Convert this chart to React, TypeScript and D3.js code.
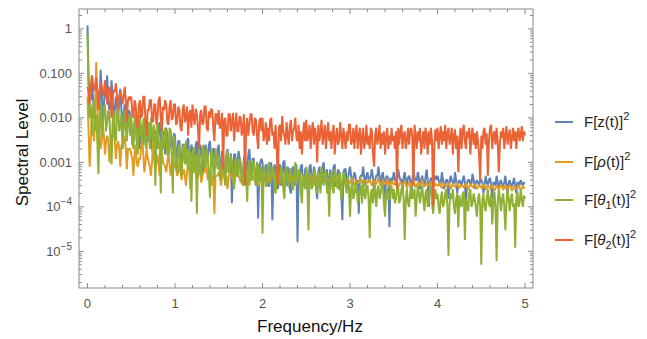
import React from "react";
import * as d3 from "d3";

// ---------- data ----------
const freqStep = 0.0125; // Hz, spacing of spectral bins (0 … 5 Hz)
const xTickValues = [0, 1, 2, 3, 4, 5];
const yTickValues = [1, 0.1, 0.01, 0.001, 1e-4, 1e-5];
const yTickLabels = ["1", "0.100", "0.010", "0.001", "10|-4", "10|-5"];

// F[z(t)]^2
const zSpec = [
  1.2, 8e-2, 3e-2, 2.5e-2, 6e-2, 3e-2, 1e-2, 2e-2, 5e-2, 3e-2, 2e-2, 1.5e-2, 1.2e-1, 4e-2, 8e-3, 2e-2, 4e-2, 3e-2, 9e-2, 2.5e-2, 1.5e-2, 2e-2, 7e-2, 3e-2, 5e-3, 1.5e-2, 3e-2, 2e-2, 1e-2, 2.5e-2, 4.5e-2, 1.5e-2, 6e-3, 1.2e-2, 2e-2, 1.5e-2, 4e-3, 1e-2, 1.5e-2, 1.2e-2,
  8e-3, 2.5e-3, 3e-3, 8e-3, 1e-2, 3e-3, 5e-3, 9e-3, 2e-3, 3e-3, 7e-3, 2.5e-3, 4e-3, 8e-3, 1e-2, 3e-3, 3e-3, 6e-3, 6e-3, 2e-3, 1.5e-3, 5e-3, 5e-3, 2e-3, 2.5e-3, 6e-3, 8e-3, 2.5e-3, 2e-3, 5e-3, 4e-3, 1.5e-3, 6e-3, 4e-3, 1.5e-3, 2.5e-3, 5e-3, 2e-3, 3e-3, 4.5e-3,
  4e-3, 1.2e-3, 1.5e-3, 3e-3, 3e-3, 1e-3, 8e-4, 2.5e-3, 2.5e-3, 1e-3, 1e-3, 3e-3, 3.5e-3, 1.2e-3, 1.2e-3, 2.5e-3, 2e-3, 9e-4, 7e-4, 2.5e-3, 3e-3, 1e-3, 1e-3, 2.5e-3, 2e-3, 8e-4, 6e-4, 2e-3, 2.5e-3, 1e-3, 1.5e-3, 2.5e-3, 3e-3, 1e-3, 8e-4, 2e-3, 2e-3, 8e-4, 1e-3, 2e-3,
  2.5e-3, 7e-4, 8e-4, 1.8e-3, 1.5e-3, 6e-4, 5e-4, 1.5e-3, 2e-3, 6e-4, 7e-4, 1.6e-3, 1.2e-4, 8e-4, 1.5e-3, 1.5e-3, 6e-4, 7e-4, 1.8e-3, 1.3e-3, 9e-4, 5e-4, 4e-4, 1.2e-3, 1.5e-3, 6e-4, 7e-4, 1.5e-3, 2e-3, 7e-4, 5e-4, 1.2e-3, 1.2e-3, 5e-4, 3e-4, 1e-3, 5.5e-5, 6e-4, 1e-3, 1.2e-3,
  1e-3, 4e-4, 4e-4, 9e-4, 8e-4, 3e-4, 3e-4, 8e-4, 1e-3, 5e-5, 5e-4, 9e-4, 7e-4, 3e-4, 2.5e-4, 8e-4, 9e-4, 3e-4, 4e-4, 1e-3, 1.1e-3, 4e-4, 3e-4, 8e-4, 6e-4, 2.5e-4, 2e-4, 7e-4, 8e-4, 3e-4, 4e-4, 9e-4, 1.6e-5, 4e-4, 5e-4, 8e-4, 9e-4, 3e-4, 3e-4, 7e-4,
  7e-4, 2.5e-4, 3e-4, 8e-4, 9e-4, 3e-4, 4e-4, 8e-4, 6e-4, 2.5e-4, 1.5e-4, 6e-4, 8e-4, 3e-4, 3.5e-4, 8e-4, 1e-3, 3.5e-4, 5e-4, 7e-4, 2.5e-4, 4e-4, 7e-4, 3e-4, 4e-4, 8e-4, 9e-4, 3e-4, 3e-4, 7e-4, 6e-4, 2.5e-4, 2e-4, 5e-5, 6e-4, 7e-4, 7e-4, 3e-4, 4e-4, 6e-4,
  8e-4, 5e-4, 3e-4, 4.5e-4, 6e-4, 5e-4, 2e-4, 4e-4, 7e-5, 4.5e-4, 5e-4, 5e-4, 8e-4, 4.5e-4, 3e-4, 5e-4, 6e-4, 4e-4, 4e-4, 5e-4, 7e-4, 4.5e-4, 2e-4, 4e-4, 5e-4, 5e-4, 8e-4, 4.5e-4, 3e-4, 5e-4, 6e-4, 4e-4, 1.5e-4, 4.5e-4, 5e-4, 4e-4, 3.5e-5, 4.5e-4, 4e-4, 4e-4,
  6e-4, 4.5e-4, 3e-4, 4e-4, 7e-4, 5e-4, 4e-4, 4e-4, 2e-4, 4.5e-4, 6e-4, 4e-4, 3e-4, 4.5e-4, 5e-4, 4e-4, 1.5e-4, 4e-4, 7e-4, 4.5e-4, 4e-4, 4e-4, 6e-4, 4.5e-4, 2.5e-4, 4e-4, 5e-4, 3.5e-4, 3e-4, 4.5e-4, 7e-4, 4e-4, 1e-4, 3.5e-4, 4.5e-4, 4e-4, 3e-4, 4.5e-4, 5e-4, 4e-4,
  5e-4, 4e-4, 3e-4, 3.5e-4, 6e-4, 4e-4, 2.5e-4, 3.5e-4, 4e-4, 4e-4, 1.5e-4, 3.5e-4, 5e-4, 4e-4, 3.5e-4, 3.5e-4, 6e-4, 4e-4, 2e-4, 3.5e-4, 4e-4, 3.5e-4, 3e-4, 4e-4, 5e-4, 3.5e-4, 1e-4, 3.5e-4, 4e-4, 4e-4, 3e-4, 3.5e-4, 5.5e-4, 4e-4, 2.5e-4, 3.5e-4, 4e-4, 3.5e-4, 3e-4, 4e-4,
  4e-4, 3.5e-4, 2e-4, 3e-4, 5e-4, 3.5e-4, 3e-4, 4e-4, 4.5e-4, 3e-4, 1.5e-4, 3.5e-4, 3.5e-4, 3e-4, 5e-4, 3.5e-4, 2.5e-4, 3.5e-4, 4e-4, 3e-4, 3e-4, 3.5e-4, 5e-4, 3e-4, 2e-4, 3.5e-4, 4e-4, 3e-4, 3e-4, 3.5e-4, 4.5e-4, 3e-4, 2e-4, 3.5e-4, 3.5e-4, 3e-4, 4e-4, 3.5e-4, 3e-4, 3.5e-4,
  3.5e-4,
];

// F[rho(t)]^2
const rhoSpec = [
  3e-2, 5e-3, 8e-4, 3e-3, 1e-2, 6e-3, 3e-3, 1e-2, 1.8e-1, 2e-2, 5e-3, 4e-3, 2e-3, 3e-3, 8e-3, 4e-3, 1.5e-3, 3e-3, 4e-3, 3e-3, 1e-3, 2.5e-3, 3e-3, 4e-3, 6e-3, 3e-3, 1.2e-3, 2.5e-3, 3e-3, 2e-3, 8e-4, 2.5e-3, 2e-3, 3e-3, 4e-3, 2e-3, 7e-4, 2e-3, 2e-3, 2e-3,
  1.5e-3, 1.2e-3, 5e-4, 1.5e-3, 2.5e-3, 1e-3, 8e-4, 1.2e-3, 1.2e-3, 2e-3, 4e-3, 1.5e-3, 6e-4, 1e-3, 2e-3, 1.3e-3, 1e-3, 8e-4, 5e-4, 1e-3, 3e-3, 1.2e-3, 7e-4, 1e-3, 1.5e-3, 9e-4, 5e-4, 1.1e-3, 2e-3, 1e-3, 9e-4, 8e-4, 6e-4, 1e-3, 1.8e-3, 9e-4, 5e-4, 8e-4, 1.2e-3, 9e-4,
  8e-4, 7e-4, 5e-4, 6e-4, 1e-3, 7e-4, 4e-4, 6e-4, 7e-4, 5e-4, 3e-4, 6e-4, 9e-4, 7e-4, 2.5e-4, 6e-4, 6e-4, 6e-4, 8e-4, 6e-4, 4e-4, 5e-4, 7e-4, 6e-4, 3.5e-4, 5e-4, 6e-4, 6e-4, 9e-4, 7e-4, 4e-4, 5e-4, 6e-4, 6e-4, 3e-4, 5e-4, 7e-5, 5e-4, 5e-4, 5e-4,
  6e-4, 5e-4, 3e-4, 4.5e-4, 7e-4, 5e-4, 4e-4, 5e-4, 2.5e-4, 4.5e-4, 6e-4, 5e-4, 4.5e-4, 5e-4, 3e-4, 4.5e-4, 7e-4, 5e-4, 5e-4, 4.5e-4, 3.5e-4, 5e-4, 6e-4, 4.5e-4, 4e-4, 5e-4, 5.5e-4, 4.5e-4, 3e-4, 5e-4, 6e-4, 4.5e-4, 4e-4, 5e-4, 5e-4, 4.5e-4, 3e-4, 4.5e-4, 5.5e-4, 5e-4,
  5e-4, 4.5e-4, 4e-4, 4.8e-4, 5.5e-4, 4.5e-4, 3.5e-4, 4.2e-4, 4.5e-4, 4.8e-4, 5e-4, 4.4e-4, 3.5e-4, 4.6e-4, 5.5e-4, 4.5e-4, 4e-4, 4.4e-4, 5e-4, 4.6e-4, 3.5e-4, 4.2e-4, 4.5e-4, 4.8e-4, 5.5e-4, 4.5e-4, 4e-4, 4.3e-4, 5e-4, 4.6e-4, 3.5e-4, 4.2e-4, 4.5e-4, 4.7e-4, 5e-4, 4.4e-4, 3.5e-4, 4.2e-4, 4.5e-4, 4.3e-4,
  4e-4, 4.3e-4, 5e-4, 4.1e-4, 3.5e-4, 4e-4, 4.5e-4, 4.2e-4, 3e-4, 3.8e-4, 5e-4, 4.2e-4, 4e-4, 3.9e-4, 4.5e-4, 4.1e-4, 3.5e-4, 4e-4, 5e-4, 4.2e-4, 4e-4, 3.8e-4, 3e-4, 3.9e-4, 4.5e-4, 4.1e-4, 3.5e-4, 4e-4, 5e-4, 4.1e-4, 4e-4, 3.8e-4, 3.5e-4, 4e-4, 4.5e-4, 3.9e-4, 3e-4, 3.7e-4, 4e-4, 3.8e-4,
  3.5e-4, 3.8e-4, 4.5e-4, 3.7e-4, 3e-4, 3.5e-4, 4e-4, 3.7e-4, 3.5e-4, 3.8e-4, 4.5e-4, 3.6e-4, 2.8e-4, 3.4e-4, 4e-4, 3.7e-4, 3.5e-4, 3.6e-4, 4.2e-4, 3.5e-4, 3e-4, 3.5e-4, 4e-4, 3.6e-4, 3.2e-4, 3.7e-4, 4.5e-4, 3.6e-4, 3e-4, 3.4e-4, 3.8e-4, 3.5e-4, 3.2e-4, 3.6e-4, 4.2e-4, 3.5e-4, 2.8e-4, 3.3e-4, 3.8e-4, 3.4e-4,
  3.2e-4, 3.4e-4, 4e-4, 3.3e-4, 2.8e-4, 3.2e-4, 3.6e-4, 3.3e-4, 3e-4, 3.4e-4, 4e-4, 3.2e-4, 2.6e-4, 3.1e-4, 3.5e-4, 3.3e-4, 3e-4, 3.3e-4, 3.8e-4, 3.2e-4, 2.7e-4, 3.1e-4, 3.5e-4, 3.3e-4, 3.1e-4, 3.4e-4, 4e-4, 3.2e-4, 2.8e-4, 3.1e-4, 3.4e-4, 3.2e-4, 3e-4, 3.3e-4, 3.7e-4, 3.2e-4, 2.6e-4, 3e-4, 3.3e-4, 3.1e-4,
  3e-4, 3.1e-4, 3.6e-4, 3e-4, 2.6e-4, 2.9e-4, 3.3e-4, 3.1e-4, 2.9e-4, 3e-4, 3.5e-4, 3e-4, 2.5e-4, 2.9e-4, 3.2e-4, 3e-4, 2.8e-4, 3.1e-4, 3.5e-4, 3e-4, 2.6e-4, 2.9e-4, 3.1e-4, 3e-4, 2.7e-4, 3e-4, 3.4e-4, 2.9e-4, 2.4e-4, 2.8e-4, 3.2e-4, 3e-4, 2.8e-4, 3e-4, 3.3e-4, 2.9e-4, 2.5e-4, 2.8e-4, 3e-4, 2.9e-4,
  2.7e-4, 2.8e-4, 3.3e-4, 2.8e-4, 2.4e-4, 2.7e-4, 3e-4, 2.8e-4, 2.6e-4, 2.7e-4, 3.2e-4, 2.7e-4, 2.3e-4, 2.6e-4, 2.9e-4, 2.8e-4, 2.6e-4, 2.7e-4, 3.2e-4, 2.8e-4, 2.4e-4, 2.6e-4, 3e-4, 2.7e-4, 2.7e-4, 2.8e-4, 3.1e-4, 2.7e-4, 2.3e-4, 2.6e-4, 2.9e-4, 2.7e-4, 2.6e-4, 2.7e-4, 3.1e-4, 2.7e-4, 2.4e-4, 2.6e-4, 2.9e-4, 2.7e-4,
  2.7e-4,
];

// F[theta1(t)]^2
const theta1Spec = [
  0.8, 3e-2, 1e-2, 2e-2, 4e-3, 1.5e-2, 2.5e-2, 5e-3, 1.2e-2, 3e-3, 5.5e-4, 1e-2, 2e-2, 4e-3, 6e-3, 1.8e-2, 2e-2, 5e-3, 8e-3, 1.5e-2, 1.2e-2, 3e-3, 9e-4, 8e-3, 1.5e-2, 4e-3, 3e-3, 1.2e-2, 1.8e-2, 5e-3, 7e-3, 1.2e-2, 2e-3, 5e-3, 1.5e-2, 6e-3, 3e-3, 1e-2, 1.2e-2, 4e-3,
  1e-2, 3e-3, 2e-3, 8e-3, 1.2e-2, 3e-3, 1.5e-3, 7e-3, 1.2e-2, 4e-3, 3e-3, 9e-3, 1e-2, 2.5e-3, 2e-3, 7e-3, 8e-3, 2e-3, 1e-2, 5e-3, 3e-3, 7e-3, 3e-4, 4e-3, 8e-3, 2e-3, 3e-3, 2e-4, 7e-3, 2.5e-3, 2e-3, 6e-3, 5e-3, 1.5e-3, 1.5e-3, 6e-3, 5e-3, 1.5e-3, 2e-4, 4e-3,
  2.5e-3, 8e-4, 6e-4, 2e-3, 2.5e-3, 7e-4, 5e-4, 1.8e-3, 2.5e-3, 9e-4, 3e-3, 1e-3, 7e-4, 2e-3, 1.5e-3, 1.3e-4, 1.5e-3, 2.2e-3, 6e-4, 1.5e-3, 7e-5, 1.2e-3, 2e-3, 6e-4, 5e-4, 1.8e-3, 2.5e-3, 8e-4, 8e-4, 2e-3, 1.2e-3, 5e-4, 1.6e-4, 1.5e-3, 2e-3, 6e-4, 4e-4, 1.5e-3, 2e-3, 7e-4,
  1.5e-3, 5e-4, 4e-4, 1.2e-3, 1.5e-3, 5e-4, 3e-4, 1.2e-3, 1.8e-3, 6e-4, 6e-4, 1.4e-3, 1e-3, 4e-4, 2.5e-4, 1e-3, 1.3e-3, 5e-4, 5e-4, 1.2e-3, 1e-3, 3.5e-4, 3e-4, 1e-3, 1.2e-3, 5e-4, 1.3e-4, 8e-4, 1.1e-3, 4e-4, 4e-4, 1e-3, 1.1e-3, 4e-4, 3e-4, 9e-4, 9e-4, 3.5e-4, 4.5e-4, 8e-4,
  2.5e-5, 6e-4, 8e-4, 3e-4, 3e-4, 8e-4, 1e-3, 3.5e-4, 4e-4, 8e-4, 7e-4, 2.5e-4, 2e-4, 7e-4, 9e-4, 3e-4, 3.5e-4, 8e-4, 6e-4, 2.5e-4, 1.5e-4, 6e-4, 8e-4, 3e-4, 3e-4, 7e-4, 7e-4, 2.5e-4, 2.5e-4, 6e-4, 1e-3, 3e-4, 4e-4, 7e-4, 6e-4, 2.5e-4, 1.2e-4, 5e-4, 5e-4, 2.5e-4,
  8e-4, 3e-4, 3e-5, 5e-4, 6e-4, 2.5e-4, 3e-4, 6e-4, 7e-4, 2.5e-4, 2e-4, 6e-4, 5e-4, 2e-4, 8e-4, 4e-4, 3e-4, 6e-4, 6e-4, 2e-4, 3e-4, 6e-5, 5e-4, 6e-4, 2.5e-4, 2e-4, 7e-4, 5e-4, 3e-4, 2.5e-4, 5e-4, 6e-4, 1.5e-4, 2.5e-4, 6e-4, 4.5e-4, 3e-4, 2e-4, 5e-4, 3e-4,
  6e-5, 2.5e-4, 3.5e-4, 1.5e-4, 2e-4, 3e-4, 4e-4, 1.2e-4, 1.5e-4, 2.5e-4, 3e-4, 1.2e-4, 4e-4, 2e-4, 1.5e-4, 3e-4, 3e-4, 1.5e-4, 2e-5, 2e-4, 2.5e-4, 1.2e-4, 3.5e-4, 2e-4, 1e-4, 2.5e-4, 3e-4, 1.5e-4, 2e-4, 3e-4, 3.5e-4, 1.2e-4, 6e-5, 2e-4, 2.5e-4, 1.5e-4, 1.5e-4, 2.5e-4, 3e-4, 1.5e-4,
  2.5e-4, 1.2e-4, 1.5e-4, 2.5e-4, 3e-4, 1.2e-4, 1.5e-4, 2.5e-4, 3e-4, 1.5e-4, 1.8e-5, 1.5e-4, 2.5e-4, 1.2e-4, 1e-4, 2e-4, 3e-4, 1.5e-4, 2e-4, 2.5e-4, 6e-5, 1.5e-4, 3e-4, 2e-4, 1.2e-4, 2e-4, 3e-4, 1.5e-4, 8e-5, 2e-4, 2.5e-4, 1e-4, 1.5e-4, 2.5e-4, 3e-4, 1.2e-4, 7e-5, 1.5e-4, 2.5e-4, 1.5e-4,
  2e-4, 1e-4, 7e-5, 1.5e-4, 2.2e-4, 1e-4, 1.2e-4, 2e-4, 2.5e-4, 1e-4, 8e-6, 1.2e-4, 2e-4, 1.5e-4, 2.5e-4, 1e-4, 7e-5, 1.5e-4, 2e-4, 3.5e-5, 1.8e-4, 1.2e-4, 1e-4, 2e-4, 2.2e-4, 1.8e-5, 1.5e-4, 1.2e-4, 8e-5, 2e-4, 2.5e-4, 1e-4, 1.2e-4, 2e-4, 1.5e-4, 1e-4, 6e-5, 1.5e-4, 2e-4, 1e-4,
  5e-6, 1.5e-4, 2e-4, 1e-4, 8e-5, 1.5e-4, 2.5e-4, 1.2e-4, 1e-4, 2e-4, 4e-5, 1.2e-4, 2.2e-4, 1e-4, 6e-6, 1.2e-4, 2.5e-4, 1.5e-4, 8e-5, 1.5e-4, 2e-4, 1e-4, 3e-5, 1.2e-4, 2.5e-4, 1.5e-4, 8e-5, 1.5e-4, 2e-4, 1e-4, 1.2e-4, 1.2e-5, 1.5e-4, 2.2e-4, 1e-4, 1.2e-4, 2.5e-4, 1.5e-4, 1e-4, 1.8e-4,
  1.5e-4,
];

// F[theta2(t)]^2
const theta2Spec = [
  5e-2, 4e-2, 2e-2, 5e-2, 9e-2, 6e-2, 4e-2, 5e-2, 8e-2, 4e-2, 1.5e-2, 4e-2, 6e-2, 5e-2, 3e-2, 4e-2, 7e-2, 4e-2, 2e-2, 3.5e-2, 5e-2, 3e-2, 1e-2, 3e-2, 4e-2, 4e-2, 6e-2, 3e-2, 1.5e-2, 3e-2, 4e-2, 3e-2, 2e-2, 3e-2, 5e-2, 2.5e-2, 8e-3, 2.5e-2, 3e-2, 2.5e-2,
  3e-2, 1.2e-2, 1e-2, 2.5e-2, 2e-2, 8e-3, 6e-3, 2e-2, 2.5e-2, 1e-2, 1.2e-2, 3e-2, 3e-2, 8e-3, 4e-3, 1.5e-2, 1.5e-2, 2.5e-2, 2.5e-2, 9e-3, 8e-3, 2e-2, 2e-2, 7e-3, 1e-2, 2.5e-2, 3e-2, 1e-2, 5e-3, 1.8e-2, 1.5e-2, 2.5e-2, 2e-2, 8e-3, 7e-3, 1.8e-2, 2.5e-2, 9e-3, 1e-2, 2e-2,
  2e-2, 7e-3, 8e-3, 1.8e-2, 1.5e-2, 6e-3, 5e-3, 1.5e-2, 2e-2, 8e-3, 1e-2, 1.8e-2, 4e-3, 1.2e-2, 1.5e-2, 6e-3, 2e-2, 1e-2, 7e-3, 1.6e-2, 1.2e-2, 6e-3, 2e-3, 1.2e-2, 1.5e-2, 7e-3, 8e-3, 1.8e-2, 1.8e-2, 6e-3, 5e-3, 1.4e-2, 1e-2, 1.6e-2, 1.5e-2, 6e-3, 3e-3, 1.2e-2, 1.2e-2, 7e-3,
  1.5e-2, 6e-3, 6e-3, 1.3e-2, 7e-4, 9e-3, 1e-2, 4e-3, 4e-3, 1.2e-2, 1.2e-2, 5e-3, 8e-3, 1.3e-2, 3e-3, 7e-3, 1.3e-2, 5e-3, 5e-3, 1.1e-2, 1e-2, 4e-3, 6e-3, 1.2e-2, 3e-4, 6e-3, 1e-2, 4e-3, 7e-3, 1.2e-2, 1.2e-2, 5e-3, 4e-3, 1e-2, 9e-3, 4e-3, 2e-3, 8e-3, 1e-2, 5e-3,
  1e-2, 3e-3, 4e-3, 8e-3, 2.5e-3, 6e-3, 3e-3, 9e-3, 1e-2, 4e-3, 5e-3, 2e-3, 7e-3, 2e-3, 3e-4, 6e-3, 7e-3, 3e-3, 1.1e-2, 5e-3, 4e-3, 2.5e-3, 8e-3, 4e-3, 2.5e-3, 7e-3, 9e-3, 3e-3, 5e-3, 6e-3, 1e-2, 3.5e-3, 3e-3, 7e-3, 2e-3, 5e-3, 1.5e-3, 4e-3, 8e-3, 3e-3,
  9e-3, 3e-3, 4e-3, 7e-3, 2e-3, 5e-3, 8e-3, 2.5e-3, 6e-3, 4e-3, 1e-3, 7e-3, 3e-3, 5e-3, 9e-3, 2.5e-3, 4e-3, 7e-3, 2e-3, 4.5e-3, 8e-3, 3e-3, 5e-3, 2e-3, 4.5e-3, 7e-3, 1.5e-3, 3.5e-3, 6e-3, 2.5e-3, 3e-3, 8e-3, 4e-3, 2e-3, 6e-3, 3.5e-3, 2e-3, 5e-3, 3e-3, 7e-3,
  7e-3, 2.5e-3, 3e-3, 6e-3, 2e-3, 4.5e-3, 7e-3, 2e-3, 4e-3, 6e-3, 1.5e-3, 3.5e-3, 6e-3, 2e-3, 3e-3, 7e-3, 2.5e-3, 4e-3, 2e-3, 6e-3, 5e-3, 1.5e-3, 8e-4, 4e-3, 6e-3, 2.5e-3, 3.5e-3, 7e-3, 2e-3, 4.5e-3, 2.5e-3, 5e-3, 1.5e-3, 3.5e-3, 6e-3, 2e-3, 4e-3, 2.5e-3, 6e-3, 3e-3,
  4e-3, 2e-3, 5e-3, 2.5e-4, 6e-3, 2.5e-3, 5e-3, 7e-3, 2e-3, 4e-3, 5e-3, 2e-3, 3e-3, 6e-3, 2.5e-3, 5e-3, 6e-3, 3.5e-3, 3e-4, 7e-3, 4e-3, 2e-3, 5e-3, 3e-3, 6e-3, 1.5e-3, 3e-3, 5e-3, 2e-3, 6e-3, 4e-3, 1.5e-3, 5e-3, 2.5e-3, 6e-3, 3e-3, 1e-4, 2e-3, 5.5e-3, 3e-3,
  6e-3, 2e-3, 4e-3, 6.5e-3, 2.5e-3, 5e-3, 3e-3, 7e-3, 2e-3, 4.5e-3, 6e-3, 2.5e-3, 3.5e-3, 6e-3, 1.5e-3, 4e-3, 5.5e-3, 2e-3, 4e-3, 6e-4, 3e-3, 6e-3, 2e-3, 5e-3, 7e-3, 3e-3, 2e-3, 5e-3, 3.5e-3, 6e-3, 1.5e-3, 4e-3, 6e-3, 2.5e-3, 4.5e-3, 2e-3, 5e-3, 3e-3, 1.5e-3, 4e-4,
  4e-3, 2e-3, 5e-3, 6e-3, 2.5e-3, 4.5e-3, 5e-4, 3e-3, 6e-3, 7e-3, 2e-3, 4e-3, 5e-3, 2.5e-3, 6e-3, 3e-3, 6e-4, 2.5e-3, 5e-3, 3.5e-3, 6e-3, 2e-3, 4e-3, 6.5e-3, 2.5e-3, 4e-3, 5.5e-3, 2e-3, 3.5e-3, 6e-3, 3e-3, 5e-3, 2e-3, 4.5e-3, 6e-3, 3e-3, 4e-3, 6.5e-3, 3e-3, 5e-3,
  4e-3,
];

const seriesNames = ["z", "rho", "theta1", "theta2"];
const seriesColors = ["#5E81B5", "#E19C24", "#8FB032", "#EB6235"];
const seriesData = [zSpec, rhoSpec, theta1Spec, theta2Spec];

// ---------- layout ----------
const W = 647;
const H = 339;
const left = 79, right = 533, top = 9, bottom = 288;
const FONT = "'Liberation Sans', Arial, Helvetica, sans-serif";
const frameColor = "#8a8a8a";
const labelColor = "#555";

export default function App() {
  const x = d3.scaleLinear().domain([-0.097, 5.091]).range([left, right]);
  const y = d3.scaleLog().domain([1.5e-6, 2.8]).range([bottom, top]);

  const line = d3
    .line<number>()
    .x((_, i) => x(i * freqStep))
    .y((v) => y(v));

  const xMinor = d3.range(0, 5.01, 0.2).filter((v) => Math.abs(v - Math.round(v)) > 1e-6);
  const yMinor: number[] = [];
  for (let e = -6; e <= 0; e++) {
    for (let m = 2; m <= 9; m++) {
      const v = m * Math.pow(10, e);
      if (v >= 1.5e-6 && v <= 2.8) yMinor.push(v);
    }
  }
  const yMajor = yTickValues;

  const legendY = [122, 162, 200, 240];

  const legendLabel = (name: string) => {
    const sup = (
      <tspan dy={-7} fontSize={11}>
        2
      </tspan>
    );
    if (name === "z")
      return (
        <>
          <tspan>F[z(t)]</tspan>
          {sup}
        </>
      );
    if (name === "rho")
      return (
        <>
          <tspan>F[</tspan>
          <tspan fontStyle="italic">ρ</tspan>
          <tspan>(t)]</tspan>
          {sup}
        </>
      );
    const sub = name === "theta1" ? "1" : "2";
    return (
      <>
        <tspan>F[</tspan>
        <tspan fontStyle="italic">θ</tspan>
        <tspan dy={4} fontSize={11}>
          {sub}
        </tspan>
        <tspan dy={-4}>(t)]</tspan>
        {sup}
      </>
    );
  };

  return (
    <svg
      width={W}
      height={H}
      style={{ position: "absolute", left: 0, top: 0, background: "#fff" }}
      fontFamily={FONT}
    >
      <defs>
        <clipPath id="plotClip">
          <rect x={left} y={top} width={right - left} height={bottom - top} />
        </clipPath>
      </defs>

      {/* series */}
      <g clipPath="url(#plotClip)">
        {seriesData.map((d, i) => (
          <path
            key={seriesNames[i]}
            d={line(d) || ""}
            fill="none"
            stroke={seriesColors[i]}
            strokeWidth={2}
            strokeLinejoin="miter"
            strokeMiterlimit={2}
          />
        ))}
      </g>

      {/* frame */}
      <rect x={left} y={top} width={right - left} height={bottom - top} fill="none" stroke={frameColor} strokeWidth={1} />

      {/* x ticks */}
      {xTickValues.map((v) => (
        <g key={"xt" + v}>
          <line x1={x(v)} x2={x(v)} y1={bottom} y2={bottom - 5} stroke={frameColor} />
          <line x1={x(v)} x2={x(v)} y1={top} y2={top + 5} stroke={frameColor} />
          <text x={x(v)} y={308} textAnchor="middle" fontSize={13} fill={labelColor}>
            {v}
          </text>
        </g>
      ))}
      {xMinor.map((v) => (
        <g key={"xm" + v}>
          <line x1={x(v)} x2={x(v)} y1={bottom} y2={bottom - 3} stroke={frameColor} />
          <line x1={x(v)} x2={x(v)} y1={top} y2={top + 3} stroke={frameColor} />
        </g>
      ))}

      {/* y ticks */}
      {yMajor.map((v, i) => {
        const lab = yTickLabels[i];
        const parts = lab.split("|");
        return (
          <g key={"yt" + v}>
            <line x1={left} x2={left + 5} y1={y(v)} y2={y(v)} stroke={frameColor} />
            <line x1={right} x2={right - 5} y1={y(v)} y2={y(v)} stroke={frameColor} />
            {parts.length === 1 ? (
              <text x={72} y={y(v) + 4.5} textAnchor="end" fontSize={13} fill={labelColor}>
                {lab}
              </text>
            ) : (
              <text x={72} y={y(v) + 4.5} textAnchor="end" fontSize={13} fill={labelColor}>
                {parts[0]}
                <tspan dy={-6} fontSize={10}>
                  {"\u2212" + parts[1].replace("-", "")}
                </tspan>
              </text>
            )}
          </g>
        );
      })}
      {yMinor.map((v) => (
        <g key={"ym" + v}>
          <line x1={left} x2={left + 3} y1={y(v)} y2={y(v)} stroke={frameColor} />
          <line x1={right} x2={right - 3} y1={y(v)} y2={y(v)} stroke={frameColor} />
        </g>
      ))}

      {/* axis labels */}
      <text x={(left + right) / 2 + 4} y={332} textAnchor="middle" fontSize={17} fill="#111">
        Frequency/Hz
      </text>
      <text
        transform={`translate(28, ${(top + bottom) / 2 + 4}) rotate(-90)`}
        textAnchor="middle"
        fontSize={17}
        fill="#111"
      >
        Spectral Level
      </text>

      {/* legend */}
      {seriesNames.map((n, i) => (
        <g key={"lg" + n}>
          <line x1={555} x2={573} y1={legendY[i]} y2={legendY[i]} stroke={seriesColors[i]} strokeWidth={2} />
          <text x={584} y={legendY[i] + 5} fontSize={15} fill="#222">
            {legendLabel(n)}
          </text>
        </g>
      ))}
    </svg>
  );
}
